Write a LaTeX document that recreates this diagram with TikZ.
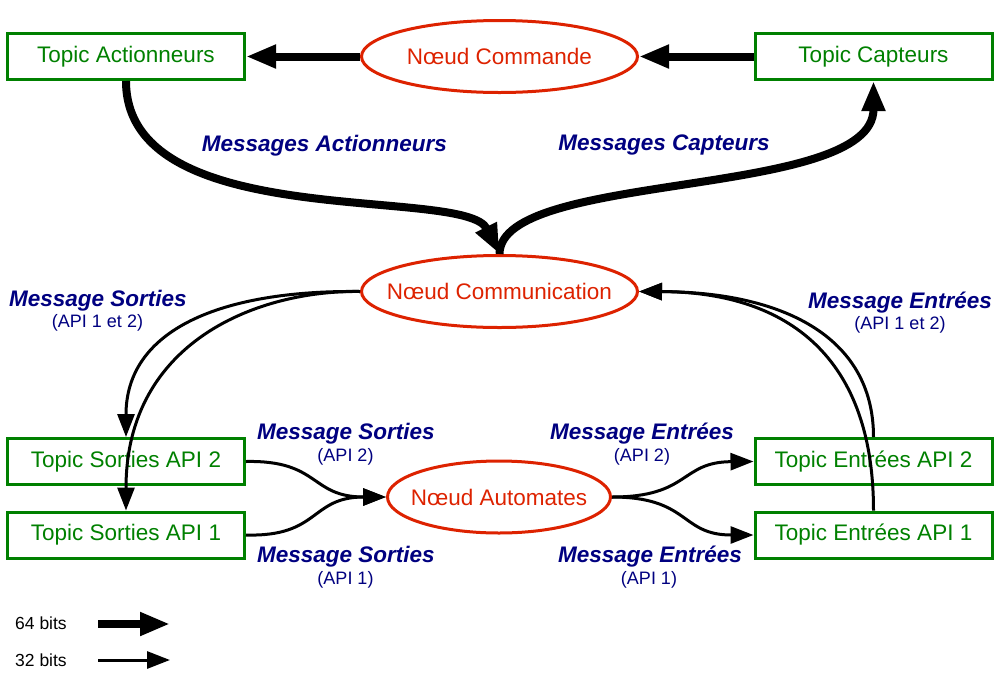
\documentclass[tikz,border=0pt]{standalone}
\usepackage{fontspec}
\setmainfont{Liberation Sans}
\usetikzlibrary{arrows.meta,shapes.geometric}
\definecolor{boxgreen}{HTML}{008000}
\definecolor{nodered}{HTML}{DD2200}
\definecolor{labelblue}{HTML}{000080}
\begin{document}
\begin{tikzpicture}[x=1pt,y=-1pt,
  topicbox/.style={draw=boxgreen, line width=3pt, text=boxgreen, minimum width=237pt, minimum height=46pt, inner sep=0pt, font=\fontsize{22.5}{27}\selectfont},
  noeud/.style={ellipse, draw=nodered, line width=3pt, text=nodered, minimum width=276pt, minimum height=72pt, inner sep=0pt, font=\fontsize{22.5}{27}\selectfont},
  msg/.style={text=labelblue, font=\fontsize{22.5}{27}\selectfont\bfseries\itshape, inner sep=0pt},
  sublabel/.style={text=labelblue, font=\fontsize{18}{21}\selectfont, inner sep=0pt},
  legendtext/.style={text=black, font=\fontsize{17.5}{21}\selectfont, inner sep=0pt, anchor=west},
  fatarrow/.style={line width=8pt, -{Triangle[length=30pt,width=22pt]}},
  slimarrow/.style={line width=3pt, -{Triangle[length=23pt,width=17pt]}},
]
\useasboundingbox (0,0) rectangle (1005,681);

% nodes
\node[topicbox] (act) at (126,56.5) {Topic Actionneurs};
\node[topicbox] (cap) at (873.5,56.5) {Topic Capteurs};
\node[noeud] (cmd) at (499.5,56.5) {\makebox[0pt]{Nœud Commande}};
\node[noeud] (com) at (499.5,291.5) {\makebox[0pt]{Nœud Communication}};
\node[noeud, minimum width=223pt] (aut) at (499,497) {\makebox[0pt]{Nœud Automates}};
\node[topicbox] (so2) at (126,461.5) {Topic Sorties API 2};
\node[topicbox] (so1) at (126,535) {Topic Sorties API 1};
\node[topicbox] (en2) at (873.5,461.5) {Topic Entrées API 2};
\node[topicbox] (en1) at (873.5,535) {Topic Entrées API 1};

% labels
\node[msg] (lma) at (324.5,146) {Messages Actionneurs};
\node[msg] (lmc) at (664,145) {Messages Capteurs};
\node[msg] (lso) at (98,301) {Message Sorties};
\node[sublabel] (lso') at (97.5,323) {(API 1 et 2)};
\node[msg] (len) at (900,303) {Message Entrées};
\node[sublabel] (len') at (900,325) {(API 1 et 2)};
\node[msg] (lso2) at (346,434) {Message Sorties};
\node[sublabel] (lso2') at (345.5,457) {(API 2)};
\node[msg] (lso1) at (346,557) {Message Sorties};
\node[sublabel] (lso1') at (345.5,580) {(API 1)};
\node[msg] (len2) at (642,434) {Message Entrées};
\node[sublabel] (len2') at (642,457) {(API 2)};
\node[msg] (len1) at (650,557) {Message Entrées};
\node[sublabel] (len1') at (649,580) {(API 1)};

% 64-bit connectors
\draw[fatarrow] (cmd.west) -- (act.east);
\draw[fatarrow] (cap.west) -- (cmd.east);
\draw[fatarrow] (act.south) .. controls (126,235) and (465,185) .. (com.north);
\draw[fatarrow] (com.north) .. controls (500,170) and (873.5,200) .. (cap.south);

% 32-bit connectors
\draw[slimarrow] (com.west) .. controls (220,290) and (126,330) .. (so2.north);
\draw[slimarrow] (com.west) .. controls (260,290) and (126,340) .. (so1.north);
\draw[slimarrow] (en2.north) .. controls (873.5,335) and (780,292) .. (com.east);
\draw[slimarrow] (en1.north) .. controls (873.5,350) and (780,292) .. (com.east);
\draw[slimarrow] (so2.east) .. controls (320,460) and (310,497) .. (aut.west);
\draw[slimarrow] (so1.east) .. controls (320,537) and (310,497) .. (aut.west);
\draw[slimarrow] (aut.east) .. controls (690,497) and (680,462) .. (en2.west);
\draw[slimarrow] (aut.east) .. controls (690,497) and (680,535) .. (en1.west);

% legend
\node[legendtext] (l64) at (15,623) {64 bits};
\node[legendtext] (l32) at (15,660) {32 bits};
\coordinate (a64s) at (98,624);
\coordinate (a64e) at (170,624);
\coordinate (a32s) at (98,660);
\coordinate (a32e) at (170,660);
\draw[fatarrow] (a64s) -- (a64e);
\draw[slimarrow] (a32s) -- (a32e);
\end{tikzpicture}
\end{document}
